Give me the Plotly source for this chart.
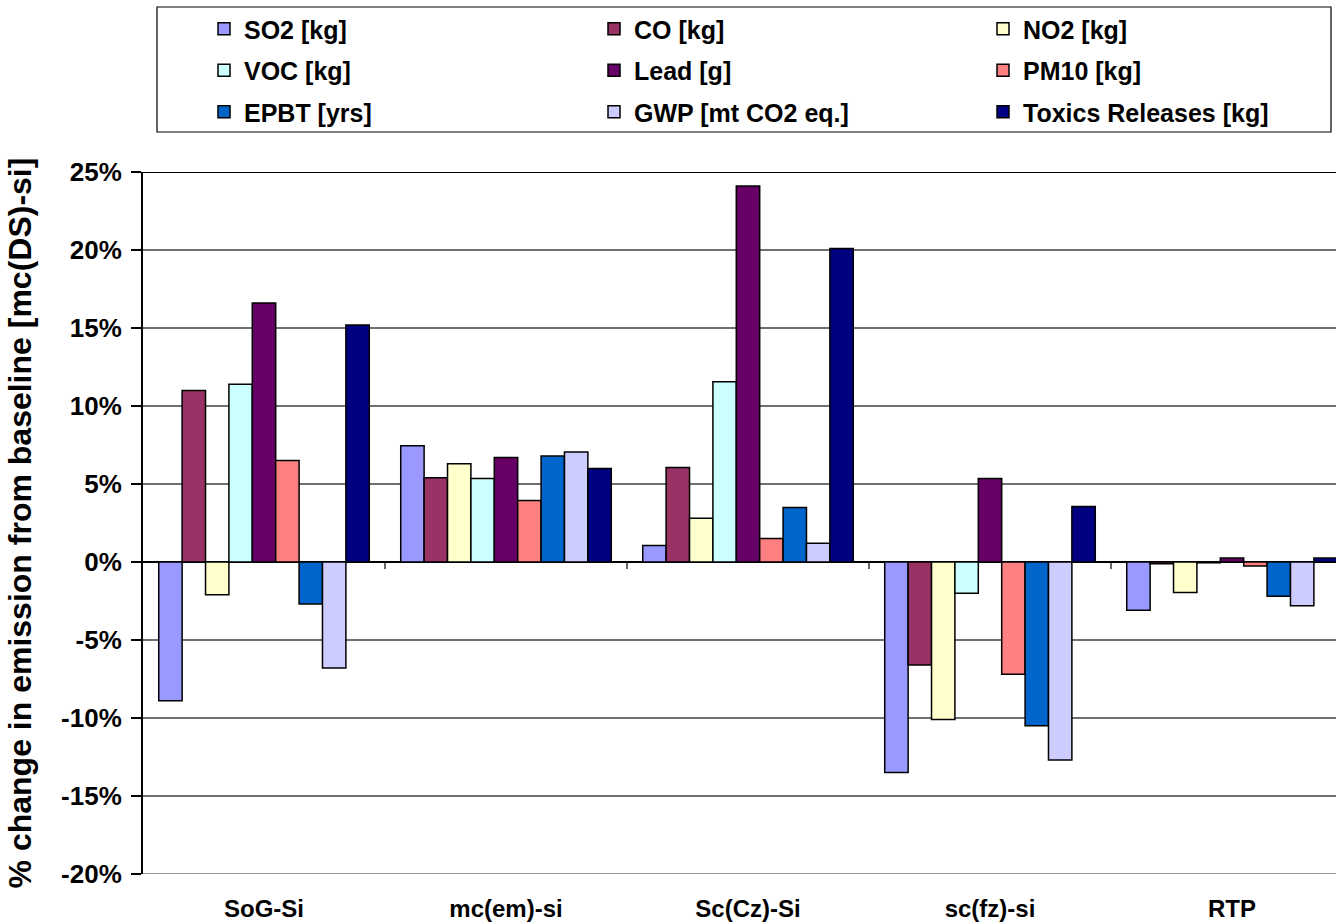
import plotly.graph_objects as go

categories = ["SoG-Si", "mc(em)-si", "Sc(Cz)-Si", "sc(fz)-si", "RTP"]

series_names = ["SO2 [kg]", "CO [kg]", "NO2 [kg]", "VOC [kg]", "Lead [g]",
                "PM10 [kg]", "EPBT [yrs]", "GWP [mt CO2 eq.]", "Toxics Releases [kg]"]

so2 = [-8.9, 7.45, 1.05, -13.5, -3.1]
co = [11.0, 5.4, 6.05, -6.6, -0.12]
no2 = [-2.1, 6.3, 2.8, -10.1, -1.95]
voc = [11.4, 5.35, 11.55, -2.0, -0.05]
lead = [16.6, 6.7, 24.1, 5.35, 0.25]
pm10 = [6.5, 3.95, 1.5, -7.2, -0.25]
epbt = [-2.7, 6.8, 3.5, -10.5, -2.2]
gwp = [-6.8, 7.05, 1.2, -12.7, -2.8]
toxics = [15.2, 6.0, 20.1, 3.55, 0.25]

series_values = [so2, co, no2, voc, lead, pm10, epbt, gwp, toxics]
colors = ["#9999FF", "#993366", "#FFFFCC", "#CCFFFF", "#660066",
          "#FF8080", "#0066CC", "#CCCCFF", "#000080"]

y_ticks = [-20, -15, -10, -5, 0, 5, 10, 15, 20, 25]
y_tick_labels = ["-20%", "-15%", "-10%", "-5%", "0%", "5%", "10%", "15%", "20%", "25%"]

FONT = "Liberation Sans, Arial, sans-serif"

W, H = 1336, 922
L, R, T, B = 143, 0, 172, 48
pw, ph = W - L - R, H - T - B

def px_x(x):
    return (x - L) / pw

def px_y(y):
    return (H - B - y) / ph

fig = go.Figure()
legend_ids = ["legend", "legend2", "legend3"]
for i, (name, vals, col) in enumerate(zip(series_names, series_values, colors)):
    fig.add_trace(go.Bar(
        x=categories, y=vals, name=name,
        marker=dict(color=col, line=dict(color="black", width=1.5)),
        legend=legend_ids[i % 3], legendgroup=name,
    ))

# small category-separator ticks below the zero line
for k in range(len(categories) - 1):
    fig.add_shape(type="line", xref="x", yref="y", x0=k + 0.5, x1=k + 0.5,
                  ysizemode="pixel", yanchor=0, y0=0, y1=-7,
                  line=dict(color="black", width=1.2))

# top line at 25%
fig.add_shape(type="line", xref="paper", yref="y", x0=0, x1=1, y0=25, y1=25,
              line=dict(color="black", width=2))
# bottom line at -20%
fig.add_shape(type="line", xref="paper", yref="y", x0=0, x1=1, y0=-20, y1=-20,
              line=dict(color="#707070", width=1.5))

# legend frame
fig.add_shape(type="rect", xref="paper", yref="paper",
              x0=px_x(157), x1=px_x(1331), y0=px_y(132), y1=px_y(7),
              line=dict(color="black", width=1.2), fillcolor="rgba(0,0,0,0)")

leg_common = dict(orientation="v", yanchor="top", xanchor="left",
                  bgcolor="rgba(0,0,0,0)", borderwidth=0, tracegroupgap=6,
                  font=dict(family=FONT, size=25, color="black", weight="bold"))
leg_x = [204, 594, 983]
for lid, lx in zip(legend_ids, leg_x):
    fig.update_layout({lid: dict(leg_common, x=px_x(lx), y=px_y(6))})

fig.update_layout(
    width=W, height=H,
    margin=dict(l=L, r=R, t=T, b=B, autoexpand=False),
    paper_bgcolor="white", plot_bgcolor="white",
    barmode="group", bargap=0.13, bargroupgap=0,
    font=dict(family=FONT, color="black"),
    xaxis=dict(
        type="category", range=[-0.5, -0.5 + pw / 242.0],
        showgrid=False, showline=False, zeroline=False, ticks="",
        tickfont=dict(family=FONT, size=24, color="black", weight="bold"),
        ticklabelstandoff=18,
    ),
    yaxis=dict(
        range=[-20, 25], tickvals=y_ticks, ticktext=y_tick_labels,
        showgrid=True, gridcolor="#707070", gridwidth=1.5,
        zeroline=True, zerolinecolor="black", zerolinewidth=2,
        showline=True, linecolor="black", linewidth=2,
        ticks="outside", ticklen=10, tickcolor="black", tickwidth=1.5,
        ticklabelstandoff=4,
        tickfont=dict(family=FONT, size=26, color="black", weight="bold"),
        title=dict(text="% change in emission from baseline [mc(DS)-si]",
                   font=dict(family=FONT, size=32, color="black", weight="bold"),
                   standoff=20),
    ),
)

fig.write_html("out.html", config={"displayModeBar": False},
               post_script="document.body.style.margin='0px';")
